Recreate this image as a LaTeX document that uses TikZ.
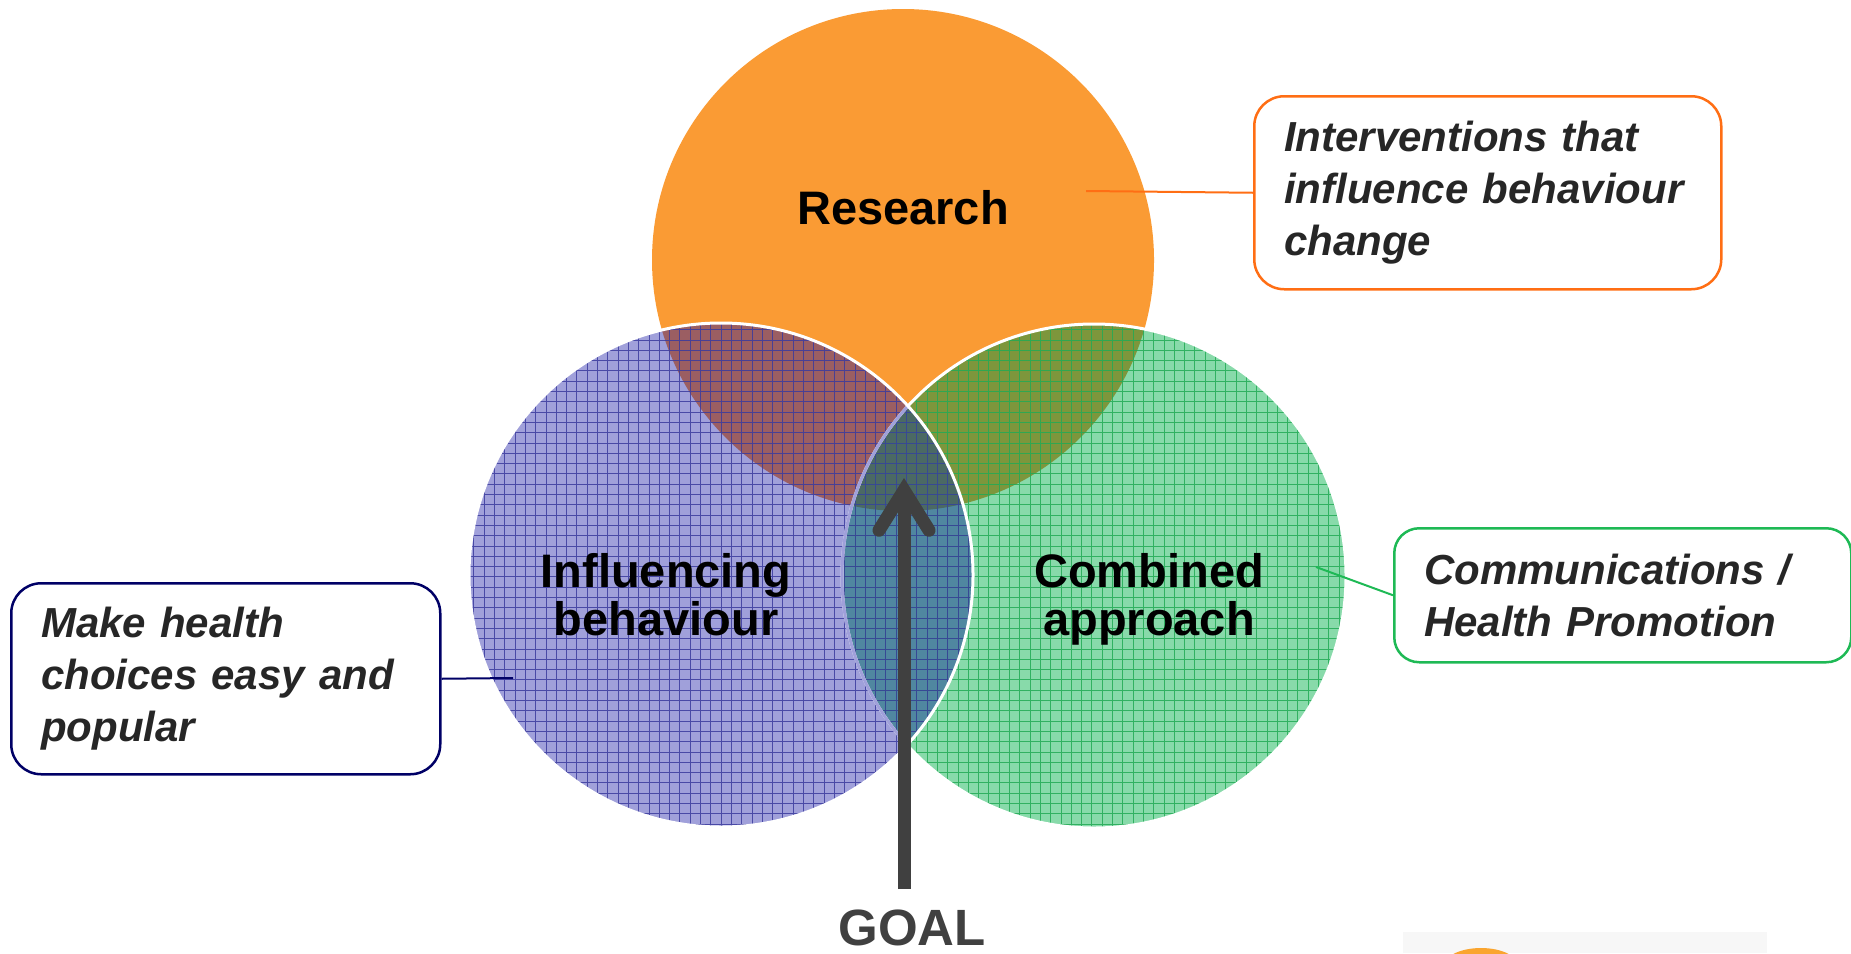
\documentclass[tikz,border=0pt]{standalone}
\usepackage{fontspec}
\setmainfont{Liberation Sans}
\usetikzlibrary{arrows.meta}
\definecolor{ResCol}{RGB}{250,155,52}
\definecolor{InfCol}{RGB}{160,160,218}
\definecolor{ComCol}{RGB}{136,218,170}
\definecolor{InfGrid}{RGB}{58,58,158}
\definecolor{ComGrid}{RGB}{34,170,85}
\definecolor{ResInf}{RGB}{155,94,98}
\definecolor{ResCom}{RGB}{125,150,60}
\definecolor{InfCom}{RGB}{80,135,160}
\definecolor{AllCol}{RGB}{75,105,100}
\definecolor{ResLine}{RGB}{255,110,20}
\definecolor{ComLine}{RGB}{30,185,85}
\definecolor{InfLine}{RGB}{0,0,102}
\definecolor{NoteCol}{RGB}{38,38,38}
\definecolor{GoalCol}{RGB}{64,64,64}
\tikzstyle{ringtext} = [font=\bfseries\fontsize{47}{48}\selectfont, align=center, inner sep=0pt]
\tikzstyle{notebox} = [draw, line width=2.5pt, rounded corners=30pt, anchor=north west, align=left, inner xsep=30pt, inner ysep=0pt, text=NoteCol, font=\bfseries\itshape\fontsize{42}{52}\selectfont]
\tikzstyle{link} = [line width=2pt]
\tikzstyle{gridline} = [line width=0.7pt, opacity=0.85, step=10.3pt]
\tikzstyle{goalarrow} = [draw=GoalCol, line width=13pt, -{Straight Barb[length=40pt, width=50pt, line cap=round, line join=miter]}]

\begin{document}
\begin{tikzpicture}[x=1pt, y=-1pt]

                    \path[use as bounding box, clip] (0,0) rectangle (1851,953);

                    \coordinate (res) at (903,260);
                    \coordinate (inf) at (721,575);
                    \coordinate (com) at (1094,576);

                    % the three rings
                    \fill[ResCol] (res) circle[radius=251pt];
                    \fill[ComCol] (com) circle[radius=252pt];
                    \fill[InfCol] (inf) circle[radius=252pt];
                    \begin{scope}
                        \clip (res) circle[radius=251pt];
                        \fill[ResInf] (inf) circle[radius=252pt];
                        \fill[ResCom] (com) circle[radius=252pt];
                    \end{scope}
                    \begin{scope}
                        \clip (inf) circle[radius=252pt];
                        \fill[InfCom] (com) circle[radius=252pt];
                        \clip (res) circle[radius=251pt];
                        \fill[AllCol] (com) circle[radius=252pt];
                    \end{scope}

                    % grid texture
                    \begin{scope}
                        \clip (com) circle[radius=252pt];
                        \draw[gridline, ComGrid] (830,310) grid (1360,840);
                    \end{scope}
                    \begin{scope}
                        \clip (inf) circle[radius=252pt];
                        \draw[gridline, InfGrid] (460,310) grid (990,840);
                    \end{scope}

                    \draw[white, line width=3pt] (com) circle[radius=252pt];
                    \begin{scope}
                        \clip (inf) circle[radius=252pt];
                        \draw[InfCol, line width=3pt] (com) circle[radius=252pt];
                    \end{scope}
                    \draw[white, line width=3pt] (inf) circle[radius=252pt];

                    \node[ringtext, anchor=base] (research) at (903,224) {Research};
                    \node[ringtext, anchor=north] (influencing) at (666,553) {Influencing\\behaviour};
                    \node[ringtext, anchor=north] (combined) at (1149,553) {Combined\\approach};

                    % notes
                    \node[notebox, draw=ResLine, text width=407pt, minimum width=467pt, minimum height=193pt] (resnote) at (1253,95) {Interventions that\\influence behaviour\\change};
                    \node[notebox, draw=ComLine, text width=397pt, minimum width=457pt, minimum height=134pt, rounded corners=25pt] (comnote) at (1393,527) {Communications /\\Health Promotion};
                    \node[notebox, draw=InfLine, text width=369pt, minimum width=429pt, minimum height=191pt] (infnote) at (10,582) {Make health\\choices easy and\\popular};

                    \coordinate (respin) at (1086,191);
                    \coordinate (compin) at (1316,567);
                    \coordinate (infpin) at (513,678);
                    \draw[link, ResLine] (respin) -- (resnote.west);
                    \draw[link, ComLine] (compin) -- (comnote.west);
                    \draw[link, InfLine] (infpin) -- (infnote.east);

                    % goal
                    \node[anchor=base, inner sep=0pt, text=GoalCol, font=\bfseries\fontsize{51}{51}\selectfont] (goal) at (912,945) {GOAL};
                    \coordinate (aim) at (904,478);
                    \draw[goalarrow, shorten <=20pt] (goal.north -| aim) -- (aim);

                    % corner of the logo strip
                    \fill[black!3] (1403,932) rectangle (1767,953);
                    \fill[ResCol!90!yellow] (1481,967) ellipse[x radius=38pt, y radius=19pt];

                \end{tikzpicture}
\end{document}
